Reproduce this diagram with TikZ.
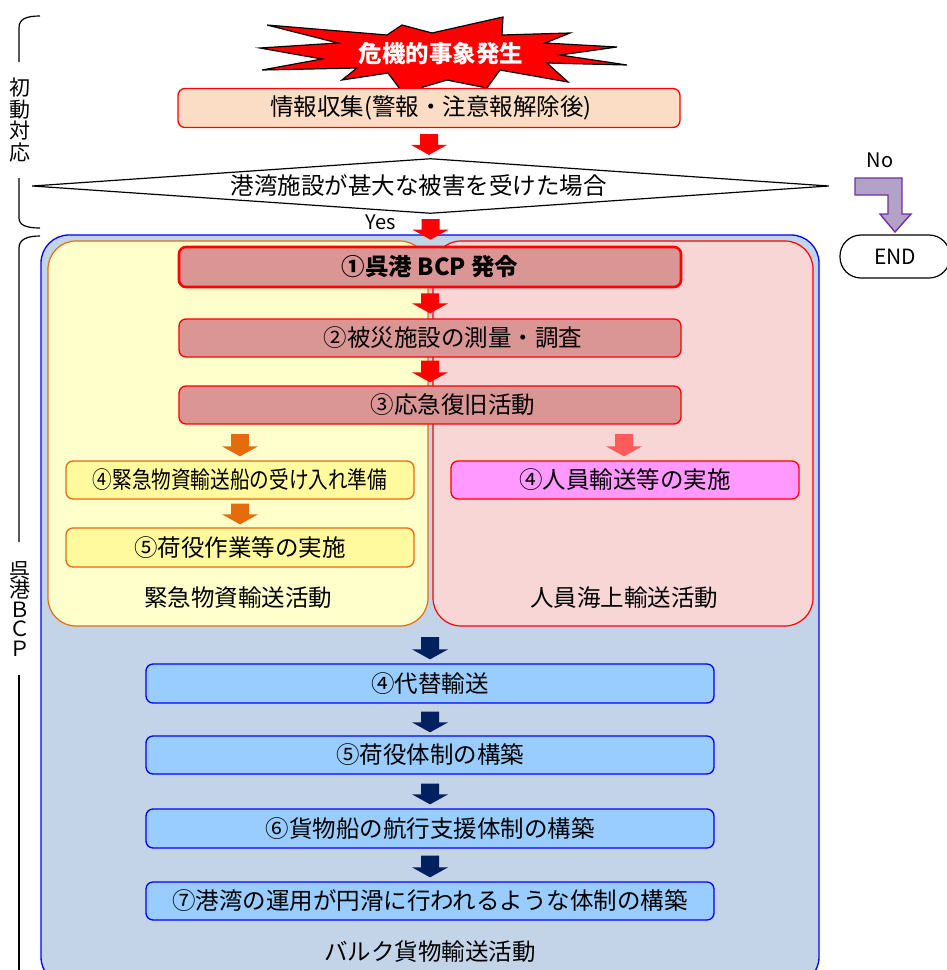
\documentclass[tikz,border=0pt]{standalone}
\usepackage{fontspec}
\usepackage{graphicx}
\setmainfont{Noto Sans CJK JP}
\usetikzlibrary{calc,shapes.geometric}
\definecolor{peach}{HTML}{FBDCC5}
\definecolor{boxred}{HTML}{D99694}
\definecolor{yellowbg}{HTML}{FFFFCC}
\definecolor{pinkbg}{HTML}{F9D6D6}
\definecolor{bluebg}{HTML}{C4D4E8}
\definecolor{yellowbox}{HTML}{FFFA9E}
\definecolor{pinkbox}{HTML}{FF99FF}
\definecolor{bluebox}{HTML}{99CCFF}
\definecolor{navy}{HTML}{002060}
\definecolor{orangeA}{HTML}{E46C0A}
\definecolor{pinkarrow}{HTML}{FF5B5B}
\definecolor{purfill}{HTML}{B3A2C7}
\definecolor{purline}{HTML}{7030A0}
\definecolor{pureblue}{HTML}{0000FF}
\definecolor{purered}{HTML}{FF0000}
\newcommand\blkarrow[3]{\fill[#1] let \p1=#2, \p2=#3 in
  (\x1-9pt,\y1) -- (\x1+9pt,\y1) -- (\x1+9pt,\y2+10pt) -- (\x1+18pt,\y2+10pt)
  -- (\x1,\y2) -- (\x1-18pt,\y2+10pt) -- (\x1-9pt,\y2+10pt) -- cycle;}
\begin{document}
\begin{tikzpicture}[x=1pt,y=-1pt,font=\fontsize{23.5}{27}\selectfont,
  box/.style={draw, rounded corners=7pt, line width=1.3pt, inner sep=0pt, minimum height=38pt, text=black},
  redbox/.style={box, draw=purered, fill=boxred, minimum width=502pt},
  ybox/.style={box, draw=orangeA, fill=yellowbox, minimum width=348pt},
  pbox/.style={box, draw=purered, fill=pinkbox, minimum width=348pt},
  bbox/.style={box, draw=pureblue, fill=bluebox, minimum width=568pt},
  brk/.style={line width=1.2pt, black},
  vtext/.style={align=center, inner sep=0pt, font=\fontsize{21}{21.5}\selectfont},
  lbl/.style={inner sep=0pt, font=\fontsize{20}{24}\selectfont}]
\useasboundingbox (0,0) rectangle (947,970);

% containers
\draw[pureblue, fill=bluebg, line width=1.3pt, rounded corners=28pt] (41,235) rectangle (819,985);
\draw[orangeA, fill=yellowbg, line width=1.2pt, rounded corners=28pt] (48,241) rectangle (428,626);
\draw[purered, fill=pinkbg, line width=1.2pt, rounded corners=28pt] (433,241) rectangle (813,626);

% brackets
\draw[brk] (40,16) .. controls (26,16) and (19,19) .. (19,28) -- (19,62);
\draw[brk] (19,178) -- (19,218) .. controls (19,225) and (26,228) .. (40,228);
\draw[brk] (40,236) .. controls (26,236) and (19,240) .. (19,248) -- (19,542);
\draw[brk] (19,675) -- (19,975);
\node[vtext] (tshodo) at (20,120) {初\\動\\対\\応};
\node[vtext, font=\fontsize{21}{19.5}\selectfont] (tbcp) at (20,609) {呉\\港\\Ｂ\\Ｃ\\Ｐ};

% star
\draw[fill=purered, line width=1.2pt, line join=miter]
  (267,25) -- (387,35) -- (402,25) -- (432,33) -- (503,17) -- (502,35) -- (570,33)
  -- (545,43) -- (617,47) -- (560,55) -- (627,65) -- (547,63) -- (568,82) -- (500,70)
  -- (487,88) -- (447,80) -- (403,93) -- (388,73) -- (342,80) -- (357,68) -- (262,70)
  -- (322,59) -- (260,48) -- (338,43) -- cycle;
\node[text=white, font=\fontsize{23.5}{27}\selectfont\bfseries, inner sep=0pt] (star) at (441,54) {危機的事象発生};

% initial flow
\node[box, draw=purered, fill=peach, minimum width=502pt, minimum height=39pt] (info) at (429,108) {\hspace*{4pt}情報収集(警報・注意報解除後)};
\node[diamond, draw, aspect=14, minimum width=797pt, minimum height=55pt, inner sep=0pt, line width=1.2pt] (dia) at (430.5,186) {};
\node[inner sep=0pt] (diatext) at (418.5,186) {港湾施設が甚大な被害を受けた場合};
\node[lbl] (yes) at (381,222) {Yes};
\node[lbl] (no) at (880,160) {No};
\node[draw, line width=1.2pt, rounded corners=21pt, minimum width=110pt, minimum height=43pt, inner sep=0pt, font=\fontsize{21}{24}\selectfont] (end) at (895,256.5) {END};
\draw[fill=purfill, draw=purline, line width=1.4pt, line join=miter]
  (855,178) -- (902,178) -- (902,214) -- (911,214) -- (895,232) -- (880,214)
  -- (888,214) -- (888,195) -- (855,195) -- cycle;

% BCP steps
\node[redbox, line width=2.6pt, minimum height=40pt, font=\fontsize{23.5}{27}\selectfont\bfseries] (b1) at (430,267) {①呉港 BCP 発令};
\node[redbox] (b2) at (430,338) {\hspace*{46pt}②被災施設の測量・調査};
\node[redbox] (b3) at (430,405) {\hspace*{46pt}③応急復旧活動};
\node[ybox] (y4) at (240,480) {\scalebox{0.835}[1]{④緊急物資輸送船の受け入れ準備}};
\node[ybox, minimum height=39pt] (y5) at (240,547.5) {⑤荷役作業等の実施};
\node[pbox] (p4) at (625,480) {④人員輸送等の実施};
\node[inner sep=0pt] (ylabel) at (238,598) {緊急物資輸送活動};
\node[inner sep=0pt] (plabel) at (624,598) {人員海上輸送活動};
\node[bbox, minimum height=39pt] (c1) at (430,683.5) {④代替輸送};
\node[bbox] (c2) at (430,755) {⑤荷役体制の構築};
\node[bbox, minimum height=39pt] (c3) at (430,828.5) {⑥貨物船の航行支援体制の構築};
\node[bbox] (c4) at (430,901) {⑦港湾の運用が円滑に行われるような体制の構築};
\node[inner sep=0pt] (blabel) at (430,952) {バルク貨物輸送活動};

% arrows
\coordinate (o1) at (240,434);
\coordinate (pk) at (624,434);
\coordinate (n1) at (430,637);
\blkarrow{purered}{($(info.south)+(0,6)$)}{($(dia.north)+(0,-3)$)}
\blkarrow{purered}{($(dia.south)+(0,5)$)}{($(b1.north)+(0,-6)$)}
\blkarrow{purered}{($(b1.south)+(0,5)$)}{($(b2.north)+(0,-5)$)}
\blkarrow{purered}{($(b2.south)+(0,3)$)}{($(b3.north)+(0,-3)$)}
\blkarrow{orangeA}{(o1)}{($(y4.north)+(0,-4)$)}
\blkarrow{orangeA}{($(y4.south)+(0,4)$)}{($(y5.north)+(0,-3)$)}
\blkarrow{pinkarrow}{(pk)}{($(p4.north)+(0,-4)$)}
\blkarrow{navy}{(n1)}{($(c1.north)+(0,-4)$)}
\blkarrow{navy}{($(c1.south)+(0,8)$)}{($(c2.north)+(0,-3)$)}
\blkarrow{navy}{($(c2.south)+(0,9)$)}{($(c3.north)+(0,-4)$)}
\blkarrow{navy}{($(c3.south)+(0,7)$)}{($(c4.north)+(0,-4)$)}
\end{tikzpicture}
\end{document}
